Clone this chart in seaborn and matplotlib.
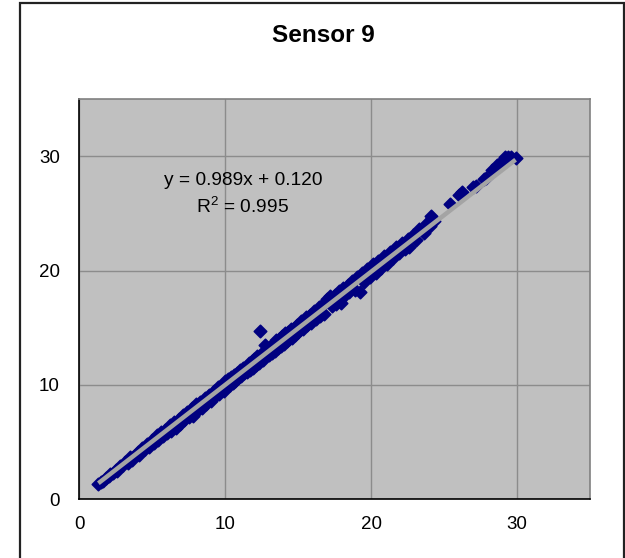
import numpy as np
import pandas as pd
import seaborn as sns
import matplotlib.pyplot as plt
from matplotlib.patches import Rectangle

# readings (x = reference, y = sensor 9)
x_vals = [1.3, 1.45, 1.6, 1.8, 2.0, 2.1, 2.3, 2.5, 2.6, 2.8, 3.0, 3.1, 3.3, 3.5, 3.6, 3.8,
          4.0, 4.1, 4.3, 4.5, 4.6, 4.8, 5.0, 5.1,
          5.3, 5.4, 5.6, 5.7, 5.9, 6.0, 6.2, 6.3, 6.5, 6.6, 6.8, 6.9, 7.1, 7.2, 7.4, 7.5,
          7.7, 7.8, 8.0, 8.1, 8.3, 8.4, 8.6, 8.7, 8.9, 9.0, 9.2, 9.3, 9.5, 9.6, 9.8, 9.9, 10.0,
          10.1, 10.2, 10.3, 10.4, 10.5, 10.6, 10.7, 10.8, 10.9, 11.0, 11.1, 11.2, 11.3, 11.4,
          11.5, 11.6, 11.7, 11.8, 11.9, 12.0, 12.1, 12.2, 12.3, 12.4, 12.5, 12.6, 12.7, 12.8,
          12.9, 13.0, 13.1, 13.2, 13.3, 13.4, 13.5, 13.6, 13.7, 13.8, 13.9, 14.0, 14.1, 14.2,
          14.3, 14.4, 14.5, 14.6, 14.7, 14.8, 14.9, 15.0,
          15.2, 15.3, 15.5, 15.6, 15.8, 15.9, 16.1, 16.2, 16.4, 16.5, 16.7, 16.8, 17.0, 17.2,
          17.3, 17.5, 17.6, 17.8, 17.9, 18.1, 18.2, 18.4, 18.5, 18.7, 18.9, 19.0, 19.2, 19.4,
          19.5, 19.7, 19.9, 20.1, 20.3, 20.5, 20.7, 20.9, 21.1, 21.3, 21.5, 21.7, 21.9, 22.1,
          22.3, 22.5, 22.6, 22.9, 23.1, 23.3, 23.6, 23.8, 24.0, 24.1, 24.2, 24.3,
          25.4, 26.0, 26.2, 27.0, 27.2, 27.7, 27.9, 28.3, 28.6, 28.9, 29.2, 29.4, 29.6, 29.9]
y_vals = [1.3, 1.5, 1.6, 1.85, 2.0, 2.25, 2.3, 2.6, 2.5, 2.9, 3.0, 3.3, 3.2, 3.7, 3.4, 3.9,
          4.1, 3.9, 4.5, 4.4, 4.8, 4.6, 5.2, 4.9,
          5.6, 5.2, 5.9, 5.5, 6.1, 5.8, 6.5, 6.0, 6.8, 6.2, 7.0, 6.6, 7.4, 6.9, 7.6, 7.2,
          8.0, 7.3, 8.3, 7.8, 8.5, 8.0, 8.9, 8.3, 9.1, 8.6, 9.5, 9.0, 9.8, 9.2, 10.0, 9.5, 10.3,
          9.8, 10.5, 10.0, 10.7, 10.2, 10.9, 10.3, 11.0, 10.6, 11.3, 10.8, 11.5, 11.0, 11.6,
          11.1, 11.9, 11.3, 12.1, 11.5, 12.3, 11.7, 12.5, 11.9, 14.7, 12.8, 12.2, 13.5, 12.5,
          13.2, 12.6, 13.4, 12.8, 13.6, 13.0, 13.9, 13.2, 14.0, 13.4, 14.3, 13.6, 14.5, 13.8,
          14.6, 14.0, 14.9, 14.1, 15.0, 14.4, 15.2, 14.6,
          15.6, 14.9, 15.9, 15.2, 16.1, 15.4, 16.5, 15.8, 16.8, 16.0, 17.1, 16.2, 17.5, 17.8,
          16.9, 17.9, 17.1, 18.2, 17.2, 18.5, 17.9, 18.7, 18.1, 19.1, 18.3, 19.4, 18.1, 19.8,
          19.0, 20.1, 19.4, 20.6, 19.8, 20.8, 20.2, 21.3, 20.6, 21.6, 21.1, 22.1, 21.5, 22.4,
          21.9, 22.8, 22.1, 23.1, 22.7, 23.6, 23.3, 24.2, 23.9, 24.8, 24.6, 24.3,
          25.8, 26.6, 26.9, 27.3, 27.4, 28.0, 28.1, 28.8, 29.2, 29.5, 29.9, 29.9, 29.9, 29.8]

# fitted trendline as printed on the chart
slope = 0.989
intercept = 0.120
eq_text = "y = 0.989x + 0.120"
r2_text = "R$^2$ = 0.995"

df = pd.DataFrame({"x": x_vals, "y": y_vals})

sns.set_style("white")
plt.rcParams['font.family'] = ['Liberation Sans', 'DejaVu Sans']
plt.rcParams['mathtext.fontset'] = 'custom'
plt.rcParams['mathtext.rm'] = 'Liberation Sans'
plt.rcParams['text.color'] = 'black'

fig = plt.figure(figsize=(6.25, 5.58), dpi=100)
ax = fig.add_axes([79.4 / 625, 1 - 499.3 / 558, (590 - 79.4) / 625, (499.3 - 99) / 558])
ax.set_facecolor('#c0c0c0')

sns.scatterplot(data=df, x="x", y="y", marker="D", s=40, color="#000080",
                edgecolor="#000080", linewidth=1.2, ax=ax, zorder=3)

# trendline on top of the points
xs = np.array([min(x_vals), max(x_vals)])
ax.plot(xs, slope * xs + intercept, color="#a4a4a4", lw=3.2, zorder=4,
        solid_capstyle='butt')

ax.set_xlim(0, 35)
ax.set_ylim(0, 35)
ax.set_xticks([0, 10, 20, 30])
ax.set_yticks([0, 10, 20, 30])
ax.grid(True, color='#8c8c8c', lw=1)
ax.set_axisbelow(True)
ax.set_xlabel("")
ax.set_ylabel("")

for side in ['top', 'right']:
    ax.spines[side].set_color('#808080')
    ax.spines[side].set_linewidth(1.2)
for side in ['left', 'bottom']:
    ax.spines[side].set_color('black')
    ax.spines[side].set_linewidth(1.2)

ax.tick_params(axis='both', direction='out', length=5, width=1, color='black',
               labelsize=13.5, labelcolor='black')
ax.tick_params(axis='x', pad=7)
ax.tick_params(axis='y', pad=9)

ax.text(11.2, 27.9, eq_text, ha='center', va='center', fontsize=13.8, zorder=5)
ax.text(11.2, 25.55, r2_text, ha='center', va='center', fontsize=13.8, zorder=5)

fig.text(323 / 625, 1 - 36 / 558, "Sensor 9", ha='center', va='center',
         fontsize=17.5, fontweight='bold', color='black')

# outer chart frame
fig.patches.append(Rectangle((19.5 / 625, -0.02), (623.5 - 19.5) / 625, 1.02 - 2.5 / 558,
                             transform=fig.transFigure, fill=False, edgecolor='#222222',
                             lw=1.6))

fig.savefig("out.png", dpi=100)
